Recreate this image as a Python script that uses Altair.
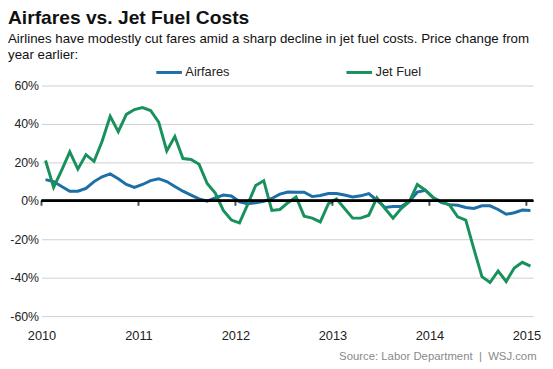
import altair as alt
import pandas as pd

# monthly observations, Jan 2010 .. Jan 2015
years = [2010] * 12 + [2011] * 12 + [2012] * 12 + [2013] * 12 + [2014] * 12 + [2015]
months = list(range(1, 13)) * 5 + [1]

airfares = [
    11, 10, 7.5, 5, 5, 6.5, 10, 12.5, 14, 11.5, 8.5, 7,
    8.5, 10.5, 11.5, 10, 7.5, 5, 3, 1, -0.2, 1.5, 3, 2.5,
    -0.5, -1.5, -1, -0.3, 1.2, 3.5, 4.6, 4.5, 4.5, 2.2, 2.8, 3.8,
    3.8, 3, 2, 2.6, 3.8, 0.3, -3.5, -3, -3, -0.3, 4.5, 5.5,
    1.5, -1, -2, -2.3, -3.5, -4, -2.6, -2.6, -4.5, -7, -6.2, -4.8,
    -5,
]
jet_fuel = [
    21, 7, 16, 25.5, 16.5, 24, 20.5, 31, 44, 36, 45, 47.5,
    48.5, 47, 41, 26, 33.5, 22, 21.5, 19, 9, 4, -5, -10,
    -11.5, -2, 8, 10.5, -5, -4.5, -1, 2, -8, -9, -11, -1.5,
    1, -4, -9, -9, -7.5, 1.5, -4, -9, -4, -0.5, 8.5, 5.5,
    1.5, -0.5, -2.3, -8.3, -10, -25, -39.5, -42.5, -36.5, -42, -35, -32,
    -34,
]
series_names = ["Airfares", "Jet Fuel"]
series_colors = ["#1c6fa7", "#18915c"]
year_ticks = [2010, 2011, 2012, 2013, 2014, 2015]
y_ticks = [-60, -40, -20, 0, 20, 40, 60]
source_text = "Source: Labor Department\u00a0\u00a0|\u00a0\u00a0WSJ.com"

t = [y + (m - 0.5) / 12 for y, m in zip(years, months)]
df = pd.concat([
    pd.DataFrame({"t": t, "value": airfares, "series": series_names[0]}),
    pd.DataFrame({"t": t, "value": jet_fuel, "series": series_names[1]}),
])
ticks_df = pd.DataFrame({"t": year_ticks})

FONT = "Liberation Sans"

x_scale = alt.Scale(domain=[2010, 2015.07], nice=False, zero=False)
y_scale = alt.Scale(domain=[-60, 60], nice=False)

x_axis = alt.Axis(values=year_ticks, format="d", grid=False, domain=False,
                  ticks=False, labelPadding=14, labelFontSize=13,
                  labelColor="#222", labelFont=FONT, labelOverlap=False,
                  labelFlush=False,
                  title=source_text,
                  titleAnchor="end", titleFont=FONT, titleFontSize=11.5,
                  titleFontWeight="normal", titleColor="#8a8a8a",
                  titlePadding=8, titleX=502)
y_axis = alt.Axis(values=y_ticks, labelExpr="datum.value + '%'",
                  grid=True, gridColor="#cfcfcf", gridWidth=1,
                  domain=False, ticks=False, labelPadding=3,
                  labelFontSize=12.5, labelColor="#222", labelFont=FONT,
                  labelOverlap=False, labelFlush=False, title=None)

lines = alt.Chart(df).mark_line(strokeWidth=3, strokeJoin="miter").encode(
    x=alt.X("t:Q", scale=x_scale, axis=x_axis),
    y=alt.Y("value:Q", scale=y_scale, axis=y_axis),
    color=alt.Color("series:N",
                    scale=alt.Scale(domain=series_names, range=series_colors),
                    legend=alt.Legend(orient="none", legendX=115, legendY=-28,
                                      direction="horizontal", title=None,
                                      symbolType="stroke", symbolStrokeWidth=3,
                                      symbolSize=676, labelFontSize=13,
                                      labelFont=FONT, labelColor="#222",
                                      columnPadding=112, labelOffset=2)),
)

zero_rule = alt.Chart(ticks_df).mark_rule(color="black", strokeWidth=2).encode(
    y=alt.Y(datum=0, type="quantitative", scale=y_scale, axis=y_axis)
)
year_marks = alt.Chart(ticks_df).mark_tick(
    color="black", orient="vertical", size=5, thickness=2, yOffset=2.5
).encode(
    x=alt.X("t:Q", scale=x_scale, axis=x_axis),
    y=alt.Y(datum=0, type="quantitative", scale=y_scale, axis=y_axis),
)

chart = alt.layer(lines, zero_rule, year_marks).properties(
    width=499, height=234,
    autosize=alt.AutoSizeParams(type="none"),
    padding={"left": 34, "top": 76, "right": 12, "bottom": 51},
    title=alt.TitleParams(
        text="Airfares vs. Jet Fuel Costs",
        subtitle=["Airlines have modestly cut fares amid a sharp decline in jet fuel costs. Price change from",
                  "year earlier:"],
        anchor="start", frame="group", font=FONT, fontSize=19.5, fontWeight="bold",
        color="#111", subtitleFont=FONT, subtitleFontSize=13.5, subtitleColor="#111",
        subtitleLineHeight=17, subtitlePadding=3, offset=14, dx=-34, dy=19,
    ),
).configure_view(stroke=None)

chart.save("out.html", embed_options={"renderer": "svg", "actions": False})
